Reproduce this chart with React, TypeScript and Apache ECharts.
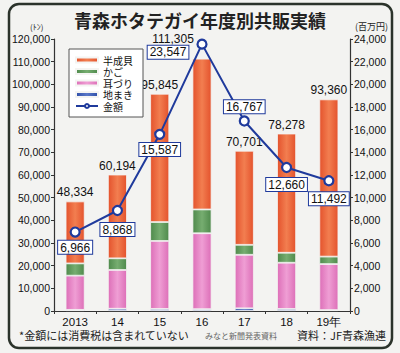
import React, { useEffect, useRef } from "react";
import * as echarts from "echarts";

const categories = ["2013", "14", "15", "16", "17", "18", "19年"];
const hanseigai = [27334, 36944, 56595, 66505, 41501, 52578, 69360];
const kago = [5400, 5150, 8350, 10500, 4400, 4400, 3300];
const mimizuri = [15100, 17100, 30000, 33500, 23600, 20400, 20300];
const jimaki = [500, 1000, 900, 800, 1200, 900, 400];
const totals = [48334, 60194, 95845, 111305, 70701, 78278, 93360];
const kingaku = [6966, 8868, 15587, 23547, 16767, 12660, 11492];

const NUM_FONT = "Liberation Sans, Arial, sans-serif";
const JP_FONT = "Noto Sans CJK JP, sans-serif";

const fmt = (v: number) => v.toLocaleString("en-US");

const hGrad = (edge: string, mid: string) =>
  new echarts.graphic.LinearGradient(0, 0, 1, 0, [
    { offset: 0, color: edge },
    { offset: 0.5, color: mid },
    { offset: 1, color: edge },
  ]);

export default function App() {
  const ref = useRef<HTMLDivElement>(null);
  useEffect(() => {
    document.body.style.margin = "0";
    const chart = echarts.init(ref.current!, null, { renderer: "svg" });
    const lineBlue = "#1f3a9c";
    const barBorder = { borderColor: "#f4f4f2", borderWidth: 0.8 };
    const lineLabelBase = {
      show: true,
      color: "#111",
      fontSize: 12,
      fontFamily: NUM_FONT,
      backgroundColor: "#fff",
      borderColor: lineBlue,
      borderWidth: 1,
      padding: [1, 2, 0, 2],
      formatter: (p: any) => fmt(p.value),
    };
    const lineLabels = [
      { position: "bottom", distance: 3 },
      { position: "bottom", distance: 7 },
      { position: "bottom", distance: 3 },
      { position: "left", distance: 6, offset: [-2, 8] },
      { position: "top", distance: 2 },
      { position: "bottom", distance: 5 },
      { position: "bottom", distance: 6 },
    ];
    const axisLbl = { fontSize: 10.5, color: "#111", margin: 4, formatter: (v: number) => fmt(v) };
    const option: any = {
      animation: false,
      backgroundColor: "#f3f3f1",
      textStyle: { fontFamily: NUM_FONT },
      title: {
        text: "青森ホタテガイ年度別共販実績",
        left: "center",
        top: 6,
        textStyle: { fontSize: 18, fontWeight: "bold", color: "#222", fontFamily: JP_FONT },
      },
      legend: {
        orient: "vertical",
        left: 69,
        top: 49,
        padding: [6, 10, 6, 6],
        itemGap: 1.5,
        itemWidth: 22,
        itemHeight: 5,
        backgroundColor: "#fff",
        borderColor: "#555",
        borderWidth: 1,
        textStyle: { fontSize: 10, lineHeight: 10, fontFamily: JP_FONT, color: "#111" },
        data: [
          { name: "半成貝", icon: "rect" },
          { name: "かご", icon: "rect" },
          { name: "耳づり", icon: "rect" },
          { name: "地まき", icon: "rect" },
          { name: "金額" },
        ],
      },
      grid: { left: 54, right: 50, top: 39, bottom: 42 },
      xAxis: {
        type: "category",
        data: categories,
        axisLine: { lineStyle: { color: "#333", width: 1.2 } },
        axisTick: { show: true, length: 3, lineStyle: { color: "#333" } },
        axisLabel: { fontSize: 11.5, color: "#111", margin: 5, fontFamily: NUM_FONT },
      },
      yAxis: [
        {
          type: "value",
          min: 0,
          max: 120000,
          interval: 10000,
          splitLine: { show: false },
          axisLine: { show: true, lineStyle: { color: "#333", width: 1.2 } },
          axisTick: { show: true, length: 3, lineStyle: { color: "#333" } },
          axisLabel: axisLbl,
        },
        {
          type: "value",
          min: 0,
          max: 24000,
          interval: 2000,
          splitLine: { show: false },
          axisLine: { show: true, lineStyle: { color: "#333", width: 1.2 } },
          axisTick: { show: true, length: 3, lineStyle: { color: "#333" } },
          axisLabel: axisLbl,
        },
      ],
      series: [
        {
          name: "地まき",
          type: "bar",
          stack: "t",
          barWidth: 19,
          data: jimaki,
          itemStyle: { color: hGrad("#2f4fa8", "#5a78c8"), ...barBorder },
        },
        {
          name: "耳づり",
          type: "bar",
          stack: "t",
          data: mimizuri,
          itemStyle: { color: hGrad("#dd6fb8", "#ef9ed4"), ...barBorder },
        },
        {
          name: "かご",
          type: "bar",
          stack: "t",
          data: kago,
          itemStyle: { color: hGrad("#4f8a4c", "#76ad70"), ...barBorder },
        },
        {
          name: "半成貝",
          type: "bar",
          stack: "t",
          data: hanseigai.map((v, i) =>
            i === 3 ? { value: v, label: { offset: [-29, -11] } } : v
          ),
          itemStyle: { color: hGrad("#e4532d", "#f27e50"), ...barBorder },
          label: {
            show: true,
            position: "top",
            distance: 3,
            fontSize: 12,
            color: "#111",
            fontFamily: NUM_FONT,
            formatter: (p: any) => fmt(totals[p.dataIndex]),
          },
        },
        {
          name: "金額",
          type: "line",
          yAxisIndex: 1,
          z: 5,
          data: kingaku.map((v, i) => ({
            value: v,
            label: { ...lineLabelBase, ...lineLabels[i] },
          })),
          symbol: "circle",
          symbolSize: 9,
          lineStyle: { color: lineBlue, width: 2 },
          itemStyle: { color: "#fff", borderColor: lineBlue, borderWidth: 2.2 },
        },
      ],
      graphic: [
        {
          type: "rect",
          shape: { x: 9, y: 4, width: 383, height: 344, r: 10 },
          style: { fill: "none", stroke: "#2b332b", lineWidth: 2.5 },
          silent: true,
        },
        {
          type: "text",
          x: 30,
          y: 22,
          style: { text: "(ﾄﾝ)", fontSize: 8, fill: "#222", fontFamily: JP_FONT },
        },
        {
          type: "text",
          x: 355,
          y: 22,
          style: { text: "(百万円)", fontSize: 9, fill: "#222", fontFamily: JP_FONT },
        },
        {
          type: "text",
          x: 19,
          y: 329,
          style: { text: "*金額には消費税は含まれていない", fontSize: 11, fill: "#222", fontFamily: JP_FONT },
        },
        {
          type: "text",
          x: 205,
          y: 331,
          style: { text: "みなと新聞発表資料", fontSize: 8, fill: "#666", fontFamily: JP_FONT },
        },
        {
          type: "text",
          x: 297,
          y: 329,
          style: { text: "資料：JF青森漁連", fontSize: 11, fill: "#222", fontFamily: JP_FONT },
        },
      ],
    };
    chart.setOption(option);
    return () => chart.dispose();
  }, []);
  return <div ref={ref} style={{ width: 400, height: 353 }} />;
}
